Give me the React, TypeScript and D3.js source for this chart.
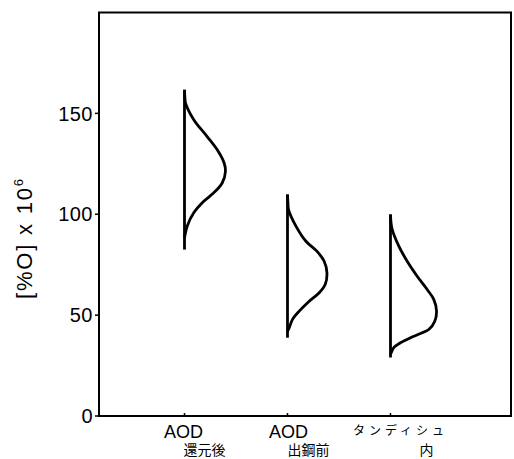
import React from "react";
import * as d3 from "d3";

const W = 514;
const H = 459;

const categories = [1, 2, 3];
const labelLine1 = ["AOD", "AOD", "タンディシュ"];
const labelLine2 = ["還元後", "出鋼前", "内"];
const yTicks = [0, 50, 100, 150];

// [%O] x 10^6 range of each group
const rangeMin = [82.5, 38.8, 29.0];
const rangeMax = [161.7, 109.8, 99.9];

// distribution profile: oxygen value and relative frequency (%)
const prof1Value = [161.7, 157, 155.1, 146.9, 138.5, 131, 125.4, 121.3, 115.5, 110.6, 106.4, 100.7, 94.1, 89.1, 88];
const prof1Freq = [0, 0.5, 1.0, 9.0, 22.0, 33.0, 38.5, 39.8, 36.6, 28.4, 18.7, 9.0, 2.6, 0.3, 0];
const prof2Value = [109.8, 105, 102.3, 94.1, 86.6, 81.7, 76.7, 71, 65.2, 61.1, 56.9, 52, 47.9, 43.8, 42];
const prof2Freq = [0, 0.5, 1.0, 8.2, 17.9, 28.5, 35.6, 38.3, 36.6, 30.8, 21.1, 11.4, 4.9, 1.7, 0];
const prof3Value = [99.9, 96, 92.4, 84.2, 76.7, 69.3, 62.7, 57.8, 52, 47, 42.9, 40.9, 38.8, 36.3, 33.9, 31.4, 30.5];
const prof3Freq = [0, 0.5, 1.7, 8.1, 16.2, 25.9, 35.6, 42.0, 44.7, 43.0, 37.2, 29.1, 19.4, 9.7, 3.2, 0.7, 0];

const profValues = [prof1Value, prof2Value, prof3Value];
const profFreqs = [prof1Freq, prof2Freq, prof3Freq];

const frame = { left: 99, right: 511, top: 12.5, bottom: 416 };

export default function App() {
  const x = d3.scaleLinear().domain([0.17, 4.17]).range([frame.left, frame.right]);
  const y = d3.scaleLinear().domain([0, 200]).range([frame.bottom, frame.top]);
  const fw = d3.scaleLinear().domain([0, 50]).range([0, (x(2) - x(1)) / 2]);

  const font = "'Liberation Sans', Arial, sans-serif";
  const cjk = "'Noto Sans CJK JP', sans-serif";

  return (
    <svg
      width={W}
      height={H}
      style={{ position: "absolute", left: 0, top: 0, background: "#fff" }}
    >
      <rect x={0} y={0} width={W} height={H} fill="#fff" />
      {/* frame */}
      <rect
        x={frame.left}
        y={frame.top}
        width={frame.right - frame.left}
        height={frame.bottom - frame.top}
        fill="none"
        stroke="#000"
        strokeWidth={2}
      />
      {/* y ticks */}
      {yTicks.map((t) => (
        <g key={t}>
          <line x1={frame.left - 4} x2={frame.left} y1={y(t)} y2={y(t)} stroke="#000" strokeWidth={1.5} />
          <text
            x={frame.left - 6}
            y={y(t)}
            dy="0.36em"
            textAnchor="end"
            fontFamily={font}
            fontSize={20}
            letterSpacing={0.5}
            fill="#000"
          >
            {t}
          </text>
        </g>
      ))}
      {/* y label */}
      <text
        transform={`translate(32, ${238}) rotate(-90)`}
        textAnchor="middle"
        fontFamily={font}
        fontSize={22}
        letterSpacing={1.8}
        fill="#000"
      >
        [%O] x 10
        <tspan dy={-9} fontSize={13}>6</tspan>
      </text>
      {/* x ticks and labels */}
      {categories.map((c) => (
        <line key={c} x1={x(c)} x2={x(c)} y1={frame.bottom} y2={frame.bottom - 3} stroke="#000" strokeWidth={1.5} />
      ))}
      <text x={x(1) - 1} y={438} textAnchor="middle" fontFamily={font} fontSize={18} fill="#000">
        {labelLine1[0]}
      </text>
      <text x={x(1) + 20} y={455} textAnchor="middle" fontFamily={cjk} fontSize={14} fill="#000">
        {labelLine2[0]}
      </text>
      <text x={x(2) + 1} y={438} textAnchor="middle" fontFamily={font} fontSize={18} fill="#000">
        {labelLine1[1]}
      </text>
      <text x={x(2) + 21} y={455} textAnchor="middle" fontFamily={cjk} fontSize={14} fill="#000">
        {labelLine2[1]}
      </text>
      <text x={x(3) + 10} y={435} textAnchor="middle" fontFamily={cjk} fontSize={12} letterSpacing={4} fill="#000">
        {labelLine1[2]}
      </text>
      <text x={x(3) + 36} y={455} textAnchor="middle" fontFamily={cjk} fontSize={14} fill="#000">
        {labelLine2[2]}
      </text>
      {/* distributions */}
      {categories.map((c, i) => {
        const pts = profValues[i].map((v, k) => [v, profFreqs[i][k]] as [number, number]);
        const line = d3
          .line<[number, number]>()
          .x((d) => x(c) + fw(d[1]))
          .y((d) => y(d[0]))
          .curve(d3.curveCatmullRom.alpha(0.5));
        return (
          <g key={c}>
            <line x1={x(c)} x2={x(c)} y1={y(rangeMin[i])} y2={y(rangeMax[i])} stroke="#000" strokeWidth={2.8} />
            <path d={line(pts) || ""} fill="none" stroke="#000" strokeWidth={2.8} strokeLinejoin="round" />
          </g>
        );
      })}
    </svg>
  );
}
